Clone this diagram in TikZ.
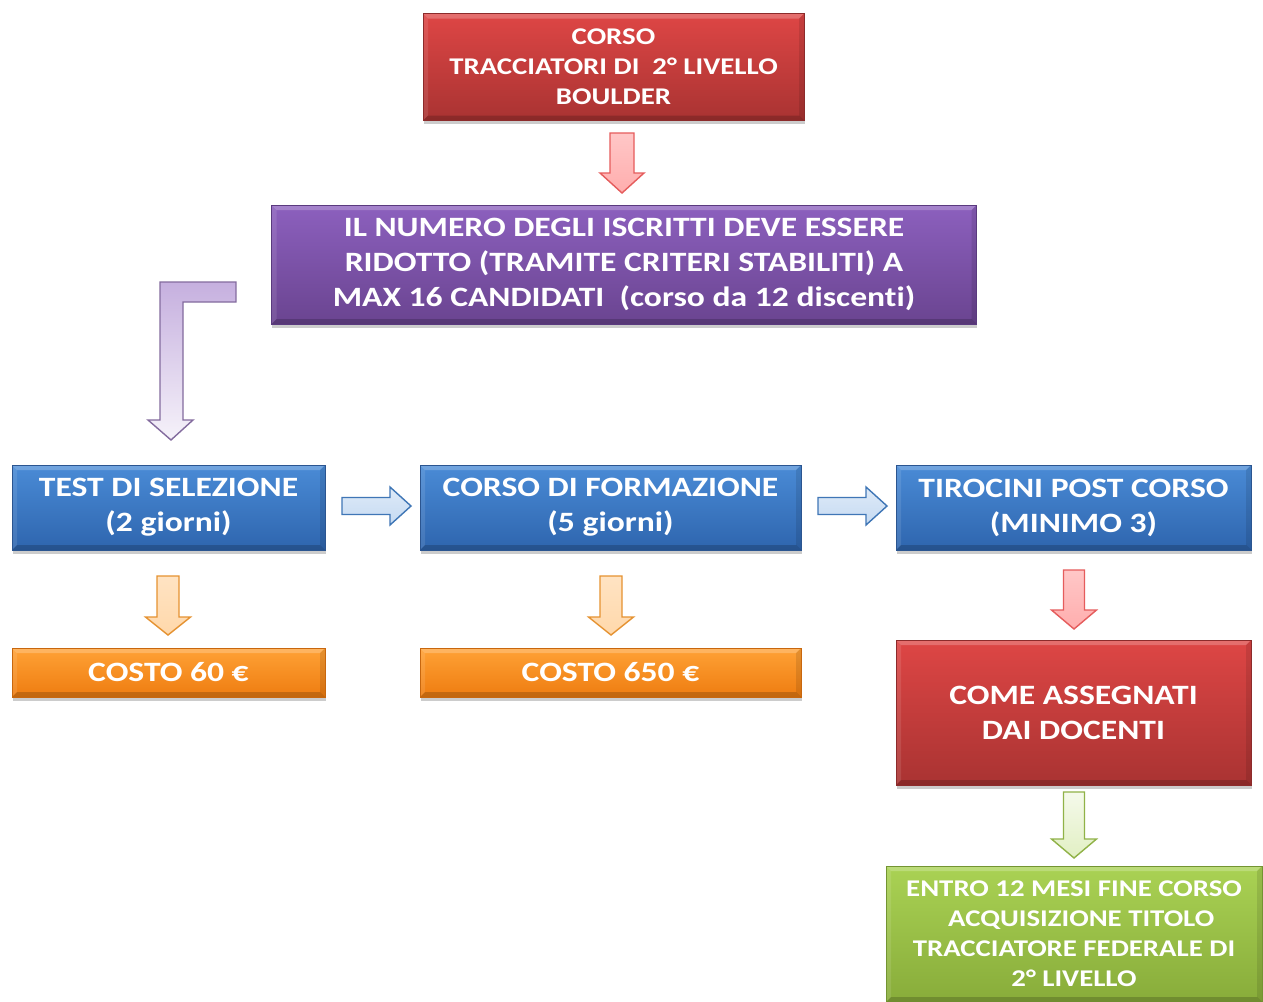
\documentclass[tikz,border=0pt]{standalone}
\usepackage{fontspec}
\setmainfont{Carlito}[FakeStretch=1.2,Ligatures={NoCommon}]
\usetikzlibrary{shadows}
\definecolor{redT}{HTML}{DE4645}\definecolor{redB}{HTML}{A93332}\definecolor{redL}{HTML}{8C2B2B}
\definecolor{purT}{HTML}{8C60BE}\definecolor{purB}{HTML}{6A4490}\definecolor{purL}{HTML}{5A3A7E}
\definecolor{bluT}{HTML}{4A8BD6}\definecolor{bluB}{HTML}{2E65AE}\definecolor{bluL}{HTML}{2B5590}
\definecolor{oraT}{HTML}{FFA236}\definecolor{oraB}{HTML}{EE7C10}\definecolor{oraL}{HTML}{C8670E}
\definecolor{griT}{HTML}{AAD254}\definecolor{griB}{HTML}{88AC3A}\definecolor{griL}{HTML}{739432}
\tikzset{
  box/.style={draw=#1L, line width=0.8pt, top color=#1T, bottom color=#1B,
    text=white, align=center, inner sep=0pt,
    drop shadow={opacity=0.4,shadow xshift=0.8pt,shadow yshift=-3.5pt},
    path picture={
      \coordinate (nw) at (path picture bounding box.north west);
      \coordinate (ne) at (path picture bounding box.north east);
      \coordinate (sw) at (path picture bounding box.south west);
      \coordinate (se) at (path picture bounding box.south east);
      \fill[white,opacity=0.22] (nw) -- (ne) -- ([xshift=-5pt,yshift=-5pt]ne) -- ([xshift=5pt,yshift=-5pt]nw) -- cycle;
      \fill[white,opacity=0.10] (nw) -- ([xshift=5pt,yshift=-5pt]nw) -- ([xshift=5pt,yshift=5pt]sw) -- (sw) -- cycle;
      \fill[black,opacity=0.10] (ne) -- ([xshift=-5pt,yshift=-5pt]ne) -- ([xshift=-5pt,yshift=5pt]se) -- (se) -- cycle;
      \fill[black,opacity=0.18] (sw) -- (se) -- ([xshift=-5pt,yshift=5pt]se) -- ([xshift=5pt,yshift=5pt]sw) -- cycle;
    }},
  small/.style={font=\bfseries\fontsize{24}{30}\selectfont},
  big/.style={font=\bfseries\fontsize{28}{35}\selectfont},
  arr/.style={line width=1.4pt, line join=miter},
  redarr/.style={arr, draw=red!60!white!90!black, top color=red!22, bottom color=red!32},
  purarr/.style={arr, draw=purL!75!white, top color=purT!50!white, bottom color=purT!8!white},
  bluarr/.style={arr, draw=bluT!85!black, top color=bluT!18!white, bottom color=bluT!32!white},
  oraarr/.style={arr, draw=oraT!90!black, top color=oraT!30!white, bottom color=oraT!42!white},
  griarr/.style={arr, draw=griT!85!black, top color=griT!12!white, bottom color=griT!35!white},
}
\newcommand\darrowshape[7]{%
  \draw[#7] (#1-#5,#2) -- (#1+#5,#2) -- (#1+#5,#3) -- (#1+#6,#3) -- (#1,#4)
    -- (#1-#6,#3) -- (#1-#5,#3) -- cycle;}
\newcommand\rarrowshape[7]{%
  \draw[#7] (#2,#1-#5) -- (#3,#1-#5) -- (#3,#1-#6) -- (#4,#1) -- (#3,#1+#6)
    -- (#3,#1+#5) -- (#2,#1+#5) -- cycle;}
\begin{document}
\begin{tikzpicture}[x=1pt,y=-1pt]
\fill[white] (0,0) rectangle (1263,1001);
\useasboundingbox (0,0) rectangle (1263,1001);

\node[box=red, small, minimum width=381pt, minimum height=107pt] (top) at (613.5,67)
  {CORSO\\TRACCIATORI DI\ \ 2° LIVELLO\\BOULDER};
\node[box=pur, big, minimum width=705pt, minimum height=119pt] (num) at (624,264.5)
  {IL NUMERO DEGLI ISCRITTI DEVE ESSERE\\RIDOTTO (TRAMITE CRITERI STABILITI) A\\MAX 16 CANDIDATI\ \ (corso da 12 discenti)};
\node[box=blu, big, minimum width=313pt, minimum height=85pt] (test) at (168.5,507.5)
  {TEST DI SELEZIONE\\(2 giorni)};
\node[box=blu, big, minimum width=381pt, minimum height=85pt] (form) at (610.5,507.5)
  {CORSO DI FORMAZIONE\\(5 giorni)};
\node[box=blu, big, minimum width=355pt, minimum height=85pt] (tiro) at (1073.5,507.5)
  {TIROCINI POST CORSO\\(MINIMO 3)};
\node[box=ora, big, minimum width=313pt, minimum height=49pt] (c60) at (168.5,672.5)
  {COSTO 60 €};
\node[box=ora, big, minimum width=381pt, minimum height=49pt] (c650) at (610.5,672.5)
  {COSTO 650 €};
\node[box=red, big, minimum width=355pt, minimum height=145pt] (come) at (1073.5,712.5)
  {COME ASSEGNATI\\DAI DOCENTI};
\node[box=gri, small, minimum width=376pt, minimum height=136pt] (entro) at (1074,934)
  {ENTRO 12 MESI FINE CORSO\\\hspace*{0.6em}ACQUISIZIONE TITOLO\\TRACCIATORE FEDERALE DI\\2° LIVELLO};

% block arrows
\darrowshape{622}{133}{173}{193}{12}{22}{redarr}
\draw[purarr] (236,282) -- (236,302) -- (183,302) -- (183,420) -- (193,420) -- (171,440)
  -- (148,420) -- (160,420) -- (160,282) -- cycle;
\rarrowshape{506}{342}{390}{411}{8.5}{19}{bluarr}
\rarrowshape{506}{818}{866}{887}{8.5}{19}{bluarr}
\darrowshape{168}{576}{617}{635}{11}{22.5}{oraarr}
\darrowshape{611}{576}{617}{635}{11}{22.5}{oraarr}
\darrowshape{1074}{570}{610}{629}{10.5}{22.5}{redarr}
\darrowshape{1074}{792}{839}{858}{10.5}{22.5}{griarr}
\end{tikzpicture}
\end{document}
